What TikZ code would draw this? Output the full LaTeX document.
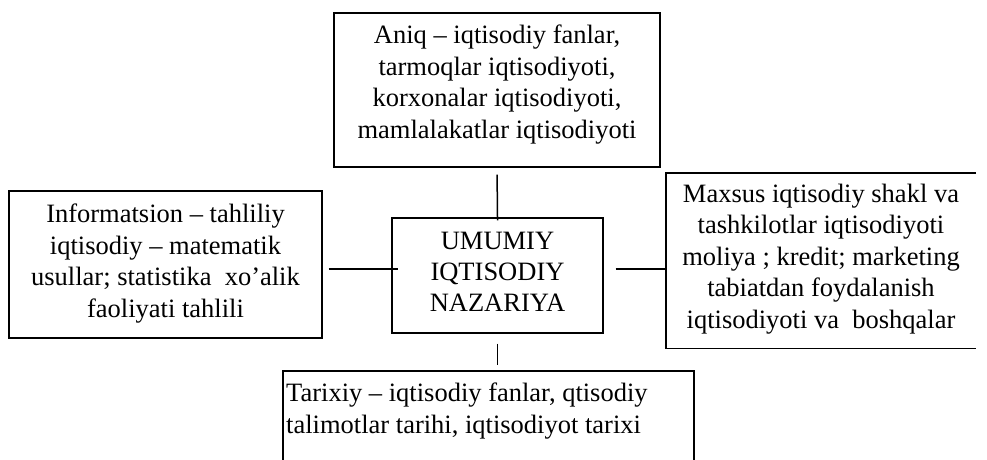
\documentclass[tikz,border=0pt]{standalone}
\usepackage{fontspec}
\setmainfont{Liberation Serif}
\begin{document}
\begin{tikzpicture}[x=1pt,y=-1pt,
  box/.style={draw, line width=1.4pt, inner sep=0pt},
  frame/.style={line width=1.4pt},
  txt/.style={align=center, inner sep=0pt, font=\fontsize{26.5}{31.4}\selectfont},
  link/.style={line width=1.5pt}]
\useasboundingbox (0,0) rectangle (987,460);
\clip (0,0) rectangle (987,460);
% boxes
\node[box, minimum width=326, minimum height=154] (T) at (497,90) {};
\node[box, minimum width=313, minimum height=147] (L) at (165.5,264.5) {};
\node[box, minimum width=211, minimum height=115] (C) at (497.5,275.5) {};
\node[inner sep=0pt, minimum width=310, minimum height=175] (R) at (821,260.5) {};
\draw[frame] (R.north east) -- (R.north west) -- (R.south west) -- (R.south east);
\node[box, minimum width=411, minimum height=109] (B) at (488.5,425.5) {};
% texts
\node[txt, anchor=north] (Tt) at (497,25) {Aniq – iqtisodiy fanlar,\\tarmoqlar iqtisodiyoti,\\korxonalar iqtisodiyoti,\\mamlalakatlar iqtisodiyoti};
\node[txt, anchor=north] (Lt) at (165.5,204) {Informatsion – tahliliy\\iqtisodiy – matematik\\usullar; statistika\ \ xo’alik\\faoliyati tahlili};
\node[txt, anchor=north] (Ct) at (497.5,231.5) {UMUMIY\\IQTISODIY\\NAZARIYA};
\node[txt, anchor=north] (Rt) at (821,184) {Maxsus iqtisodiy shakl va\\tashkilotlar iqtisodiyoti\\moliya ; kredit; marketing\\tabiatdan foydalanish\\iqtisodiyoti va\ \ boshqalar};
\node[txt, align=left, anchor=north west] (Bt) at (286,383) {Tarixiy – iqtisodiy fanlar, qtisodiy\\talimotlar tarihi, iqtisodiyot tarixi};
% connectors
\coordinate (hl) at (0,269);
\draw[link, shorten <=7pt, shorten >=-3pt] (T.south) -- (C.north);
\draw[link, shorten <=6pt, shorten >=-7pt] (L.east |- hl) -- (C.west |- hl);
\draw[link, shorten <=12pt] (C.east |- hl) -- (R.west |- hl);
\draw[link, shorten <=10pt, shorten >=5pt] (C.south) -- (C.south |- B.north);
\end{tikzpicture}
\end{document}
